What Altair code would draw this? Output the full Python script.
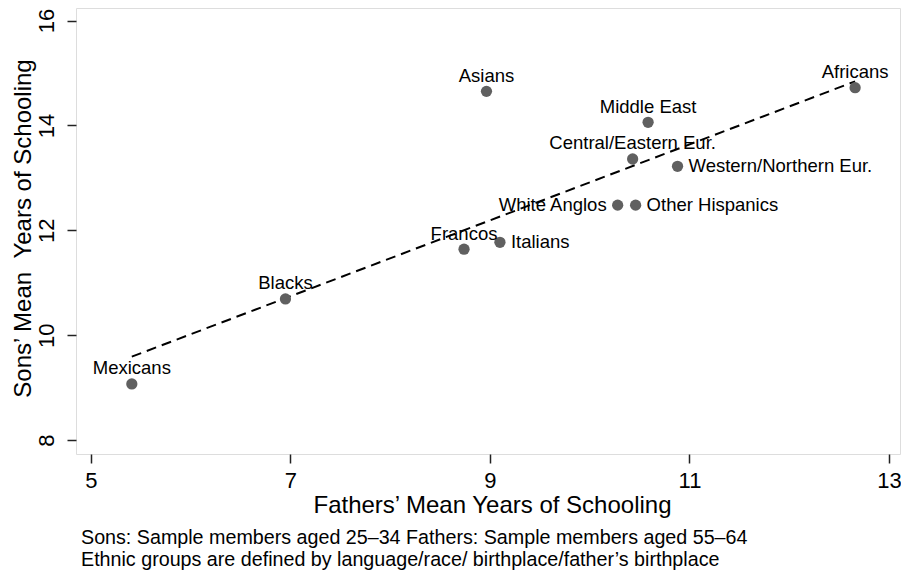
import altair as alt
import pandas as pd

# ---- data ----
GROUPS = ["Mexicans", "Blacks", "Francos", "Italians", "Asians", "White Anglos",
          "Other Hispanics", "Central/Eastern Eur.", "Middle East",
          "Western/Northern Eur.", "Africans"]
FATHERS = [5.41, 6.95, 8.74, 9.10, 8.965, 10.28, 10.46, 10.43, 10.585, 10.88, 12.66]
SONS = [9.07, 10.69, 11.64, 11.77, 14.65, 12.48, 12.48, 13.36, 14.06, 13.22, 14.72]

# fitted (dashed) line end points
FIT_X = [5.41, 12.66]
FIT_Y = [9.59, 14.84]

X_TICKS = [5, 7, 9, 11, 13]
Y_TICKS = [8, 10, 12, 14, 16]

LABEL_RIGHT = ["Italians", "Other Hispanics", "Western/Northern Eur."]
LABEL_LEFT = ["White Anglos"]

X_TITLE = "Fathers\u2019 Mean Years of Schooling"
Y_TITLE = "Sons\u2019 Mean\u00a0\u00a0Years of Schooling"
NOTES = ["Sons: Sample members aged 25\u201334 Fathers: Sample members aged 55\u201364",
         "Ethnic groups are defined by language/race/ birthplace/father\u2019s birthplace"]

FONT = "Liberation Sans"

pts = pd.DataFrame({"group": GROUPS, "fathers": FATHERS, "sons": SONS})
fit = pd.DataFrame({"fathers": FIT_X, "sons": FIT_Y})

xscale = alt.Scale(domain=[4.8506, 13.110], nice=False, zero=False)
yscale = alt.Scale(domain=[7.733, 16.24], nice=False, zero=False)

xaxis = alt.Axis(values=X_TICKS, format="d", grid=False, domain=False, tickColor="#222222",
                 tickWidth=1.5, tickSize=9, labelFont=FONT, labelFontSize=22,
                 labelColor="#000000", labelBaseline="alphabetic", labelPadding=24,
                 labelFlush=False, title=X_TITLE, titleFont=FONT, titleFontSize=24,
                 titleFontWeight="normal", titleColor="#000000", titleX=416, titleY=58,
                 titleBaseline="alphabetic", titleAlign="center")
yaxis = alt.Axis(values=Y_TICKS, format="d", grid=False, domain=False, tickColor="#222222",
                 tickWidth=1.5, tickSize=9, labelFont=FONT, labelFontSize=22,
                 labelColor="#000000", labelAngle=270, labelAlign="center",
                 labelBaseline="alphabetic", labelPadding=13.7, labelFlush=False,
                 title=Y_TITLE, titleFont=FONT, titleFontSize=24, titleFontWeight="normal",
                 titleColor="#000000", titleAngle=270, titleX=-46, titleY=220,
                 titleBaseline="alphabetic", titleAlign="center")

line = alt.Chart(fit).mark_line(color="#000000", strokeWidth=2, strokeDash=[10, 6]).encode(
    x=alt.X("fathers:Q", scale=xscale, axis=xaxis),
    y=alt.Y("sons:Q", scale=yscale, axis=yaxis),
)

points = alt.Chart(pts).mark_circle(size=127, color="#606060", opacity=1).encode(
    x=alt.X("fathers:Q", scale=xscale),
    y=alt.Y("sons:Q", scale=yscale),
)

base_text = alt.Chart(pts).encode(
    x=alt.X("fathers:Q", scale=xscale),
    y=alt.Y("sons:Q", scale=yscale),
    text="group:N",
)

not_side = alt.FieldOneOfPredicate(field="group", oneOf=LABEL_RIGHT + LABEL_LEFT)
text_above = base_text.transform_filter(~not_side).mark_text(
    font=FONT, fontSize=18.5, color="#000000", align="center",
    baseline="alphabetic", dy=-9.5)
text_right = base_text.transform_filter(
    alt.FieldOneOfPredicate(field="group", oneOf=LABEL_RIGHT)).mark_text(
    font=FONT, fontSize=18.5, color="#000000", align="left", baseline="middle", dx=11)
text_left = base_text.transform_filter(
    alt.FieldOneOfPredicate(field="group", oneOf=LABEL_LEFT)).mark_text(
    font=FONT, fontSize=18.5, color="#000000", align="right", baseline="middle", dx=-11)

chart = alt.layer(line, points, text_above, text_right, text_left).properties(
    width=824, height=446,
    autosize=alt.AutoSizeParams(type="none"),
    padding={"left": 68, "top": 0, "right": 1, "bottom": 118},
    title=alt.TitleParams(text=NOTES, orient="bottom", anchor="start", frame="group",
                          offset=27, dx=5, font=FONT, fontSize=19.7, fontWeight="normal",
                          color="#000000", lineHeight=22, baseline="alphabetic"),
).configure_view(stroke="#222222", strokeWidth=2).configure(background="white")

chart.save("out.html", embed_options={"renderer": "svg", "actions": False})
